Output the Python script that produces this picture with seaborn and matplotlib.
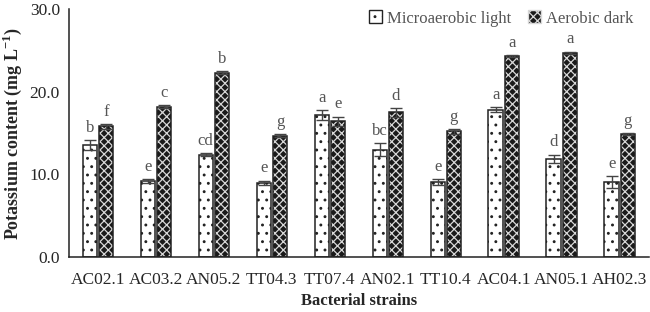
import numpy as np
import pandas as pd
import matplotlib
matplotlib.use('Agg')
import matplotlib.pyplot as plt
import seaborn as sns
from matplotlib.patches import Rectangle, Patch
import matplotlib.ticker as ticker

strains = ['AC02.1', 'AC03.2', 'AN05.2', 'TT04.3', 'TT07.4',
           'AN02.1', 'TT10.4', 'AC04.1', 'AN05.1', 'AH02.3']
micro_light = [13.6, 9.2, 12.4, 9.0, 17.2, 13.0, 9.1, 17.8, 11.9, 9.1]
micro_err = [0.6, 0.2, 0.15, 0.25, 0.6, 0.8, 0.35, 0.3, 0.5, 0.7]
aerobic_dark = [15.8, 18.2, 22.3, 14.7, 16.4, 17.5, 15.2, 24.3, 24.7, 14.9]
aerobic_err = [0.3, 0.2, 0.15, 0.2, 0.6, 0.5, 0.3, 0.15, 0.15, 0.15]
micro_letters = ['b', 'e', 'cd', 'e', 'a', 'bc', 'e', 'a', 'd', 'e']
aerobic_letters = ['f', 'c', 'b', 'g', 'e', 'd', 'g', 'a', 'a', 'g']
conditions = ['Microaerobic light', 'Aerobic dark']

df = pd.DataFrame({
    'Strain': strains * 2,
    'Condition': [conditions[0]] * len(strains) + [conditions[1]] * len(strains),
    'K': micro_light + aerobic_dark,
})

sns.set_theme(style='white')
plt.rcParams['font.family'] = ['Liberation Serif', 'DejaVu Serif']
plt.rcParams['mathtext.fontset'] = 'custom'
plt.rcParams['mathtext.rm'] = 'Liberation Serif'
plt.rcParams['mathtext.bf'] = 'Liberation Serif:bold'
plt.rcParams['hatch.linewidth'] = 0.9

fig = plt.figure(figsize=(6.5, 3.12), dpi=100)
ax = fig.add_axes([0.106, 0.176, 0.892, 0.795])

sns.barplot(data=df, x='Strain', y='K', hue='Condition', order=strains,
            hue_order=conditions, palette=['white', '#1a1a1a'],
            width=0.56, gap=0.12, errorbar=None, legend=False, ax=ax)

n = len(strains)
bars = ax.patches[:2 * n]
# first n -> microaerobic, next n -> aerobic
for i, p in enumerate(bars):
    if i < n:
        p.set_facecolor('white')
        p.set_edgecolor('#222222')
        p.set_hatch('..')
        p.set_linewidth(1.1)
    else:
        p.set_facecolor('#1a1a1a')
        p.set_edgecolor('#d8d8d8')
        p.set_hatch('xxxx')
        p.set_linewidth(0)
        ax.add_patch(Rectangle((p.get_x(), 0), p.get_width(), p.get_height(),
                               fill=False, edgecolor='#222222', linewidth=1.1, zorder=3))

vals = micro_light + aerobic_dark
errs = micro_err + aerobic_err
letters = micro_letters + aerobic_letters
for p, v, e, lab in zip(bars, vals, errs, letters):
    cx = p.get_x() + p.get_width() / 2
    ax.errorbar(cx, v, yerr=e, color='#444444', capsize=4, elinewidth=1, capthick=1, zorder=4)
    ax.text(cx, v + e + 0.5, lab, ha='center', va='bottom', fontsize=12, color='#555555')

ax.set_ylim(0, 30)
ax.set_xlim(-0.5, n - 0.5)
ax.yaxis.set_major_locator(ticker.MultipleLocator(10))
ax.yaxis.set_major_formatter(ticker.FormatStrFormatter('%.1f'))
ax.set_xticks(np.arange(n))
ax.set_xticklabels(strains)
ax.set_xticks(np.arange(n + 1) - 0.5, minor=True)
ax.tick_params(axis='x', which='major', length=0, labelsize=12.5, pad=11)
ax.tick_params(axis='x', which='minor', length=6, width=1.1, direction='inout', color='#222222')
ax.tick_params(axis='y', length=6, width=1.1, direction='inout', labelsize=12.5, color='#222222')
for s in ['top', 'right']:
    ax.spines[s].set_visible(False)
for s in ['left', 'bottom']:
    ax.spines[s].set_color('#222222')
    ax.spines[s].set_linewidth(1.1)

ax.set_xlabel('Bacterial strains', fontsize=12, fontweight='bold', labelpad=3)
ax.set_ylabel(r'Potassium content (mg L$^{\mathbf{-1}}$)', fontsize=13, fontweight='bold', labelpad=4)

handles = [Patch(facecolor='white', edgecolor='#222222', hatch='..', label=conditions[0]),
           Patch(facecolor='#1a1a1a', edgecolor='#d8d8d8', hatch='xxxx', label=conditions[1])]
ax.legend(handles=handles, loc='upper right', bbox_to_anchor=(1.0, 1.055), ncol=2,
          frameon=False, fontsize=12, handlelength=0.8, handleheight=0.8,
          handletextpad=0.3, columnspacing=1.0, labelcolor='#555555')

fig.savefig('out.png', dpi=100)
